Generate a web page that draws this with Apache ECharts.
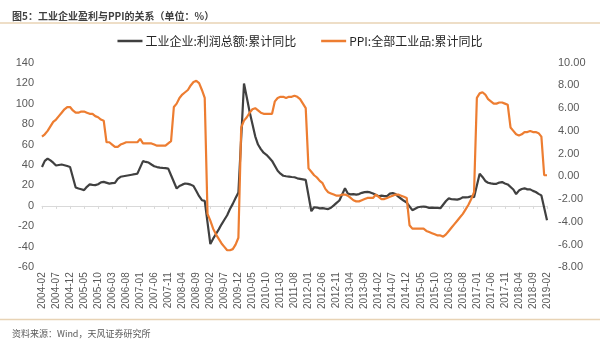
<!DOCTYPE html>
<html>
<head>
<meta charset="utf-8">
<script src="https://cdn.jsdelivr.net/npm/echarts@6/dist/echarts.min.js"></script>
<style>
html,body{margin:0;padding:0;background:#fff;}
#chart{width:600px;height:341px;}
</style>
</head>
<body>
<div id="chart"></div>
<script>
// Monthly categories 2004-02 .. 2019-02
const startYear = 2004, startMonth = 2, endYear = 2019, endMonth = 2;
const categories = [];
for (let y = startYear, m = startMonth; y < endYear || (y === endYear && m <= endMonth); ) {
  categories.push(y + '-' + (m < 10 ? '0' + m : '' + m));
  m++; if (m > 12) { m = 1; y++; }
}

// 工业企业:利润总额:累计同比 (%) — January not published (null)
const profitYoY = [
  38.1, 44, 46.3, 44.5, 42.3, 39.5, 40, 40.5, 39.8, 39, 38.1,            // 2004 Feb-Dec
  null, 18, 17, 16.3, 15.4, 18.7, 21, 20.6, 20.3, 21.2, 23, 23.5,        // 2005
  null, 21.8, 22.2, 22.5, 26.5, 28.5, 29, 29.5, 30, 30.5, 31, 31.6,      // 2006
  null, 43.8, 43, 42.4, 40.5, 38.8, 38, 37.5, 37.2, 37, 36.5, 30,        // 2007
  null, 17, 19.5, 20.8, 21.9, 21.5, 20.8, 19.4, 14.5, 9.5, 5.6, 4.9,     // 2008
  null, -37.3, -32, -27.5, -22.9, -18, -13.5, -9.1, -3, 2, 7.8, 13,      // 2009
  null, 119.7, 106, 92, 80, 68, 60, 55.5, 52, 50, 47, 44,                // 2010
  null, 34.3, 31.5, 29.5, 29, 28.7, 28.3, 28, 27, 26.5, 26, 25.4,        // 2011
  null, -5.2, -1.3, -1.6, -2.4, -2.2, -2.7, -3.1, -1.8, 0.5, 3.0, 5.3,   // 2012
  null, 17.2, 12.1, 11.3, 11.6, 11.1, 11.6, 12.8, 13.5, 13.7, 13.2, 12.2,// 2013
  null, 9.4, 10.1, 9.6, 9.6, 12, 12.5, 11.5, 9, 7, 5, 3.3,               // 2014
  null, -4.2, -2.7, -1.3, -0.8, -0.7, -1.0, -1.9, -1.7, -2.0, -1.9, -2.3,// 2015
  null, 4.8, 7.4, 6.5, 6.4, 6.2, 6.9, 8.4, 8.4, 8.6, 9.4, 8.5,           // 2016
  null, 31.5, 28.3, 24.4, 22.7, 22.0, 21.6, 21.6, 22.8, 23.3, 21.9, 21.0,// 2017
  null, 16.1, 11.6, 15.0, 16.5, 17.2, 16.2, 16.2, 14.7, 13.6, 11.8, 10.3,// 2018
  null, -14.0                                                            // 2019
];

// PPI:全部工业品:累计同比 (%)
const ppiYoY = [
  3.5, 3.7, 4.0, 4.4, 4.8, 5.0, 5.3, 5.6, 5.9, 6.1, 6.1,                 // 2004 Feb-Dec
  5.8, 5.6, 5.6, 5.7, 5.7, 5.6, 5.5, 5.5, 5.3, 5.2, 5.0, 4.9,            // 2005
  3.0, 3.0, 2.8, 2.6, 2.6, 2.8, 2.9, 3.0, 3.0, 3.0, 3.0, 3.0,            // 2006
  3.3, 2.9, 2.9, 2.9, 2.9, 2.8, 2.7, 2.7, 2.7, 2.7, 2.9, 3.1,            // 2007
  6.1, 6.4, 6.9, 7.2, 7.4, 7.6, 8.0, 8.3, 8.4, 8.2, 7.6, 6.9,            // 2008
  -3.3, -3.9, -4.6, -5.1, -5.5, -5.9, -6.2, -6.5, -6.5, -6.4, -6.0, -5.4,// 2009
  4.3, 4.9, 5.2, 5.6, 5.9, 6.0, 5.8, 5.6, 5.5, 5.5, 5.5, 5.5,            // 2010
  6.6, 6.9, 7.0, 7.0, 6.9, 7.0, 7.0, 7.1, 7.0, 6.8, 6.4, 6.0,            // 2011
  0.7, 0.4, 0.1, -0.1, -0.4, -0.6, -1.1, -1.4, -1.5, -1.6, -1.7, -1.7,   // 2012
  -1.6, -1.6, -1.7, -1.9, -2.1, -2.2, -2.2, -2.1, -2.0, -1.9, -1.9, -1.9,// 2013
  -1.6, -1.8, -2.0, -2.0, -1.9, -1.8, -1.7, -1.6, -1.6, -1.7, -1.8, -1.9,// 2014
  -4.3, -4.6, -4.6, -4.6, -4.6, -4.6, -4.8, -4.9, -5.0, -5.1, -5.2, -5.2,// 2015
  -5.3, -5.1, -4.8, -4.5, -4.2, -3.9, -3.6, -3.3, -2.9, -2.5, -2.0, -1.4,// 2016
  6.9, 7.3, 7.4, 7.2, 6.8, 6.6, 6.4, 6.4, 6.5, 6.5, 6.4, 6.3,            // 2017
  4.3, 4.0, 3.7, 3.6, 3.7, 3.9, 3.9, 4.0, 3.9, 3.9, 3.8, 3.5,            // 2018
  0.1, 0.1                                                               // 2019
];

const seriesNames = ['工业企业:利润总额:累计同比', 'PPI:全部工业品:累计同比'];
const leftTicks = { min: -60, max: 140, interval: 20 };
const rightTicks = { min: -8, max: 10, interval: 2 };
const titleText = '图5：工业企业盈利与PPI的关系（单位：%）';
const sourceText = '资料来源：Wind，天风证券研究所';

const numFont = '"Liberation Sans", "Noto Sans CJK SC", sans-serif';
const cjkFont = '"Noto Sans CJK SC", "Liberation Sans", sans-serif';

const chart = echarts.init(document.getElementById('chart'), null, { renderer: 'canvas' });
chart.setOption({
  animation: false,
  backgroundColor: '#ffffff',
  title: [
    { text: titleText, left: 7, top: 6,
      textStyle: { fontSize: 10, fontWeight: 'bold', color: '#404040', fontFamily: cjkFont } },
    { text: sourceText, left: 7, top: 324,
      textStyle: { fontSize: 9, fontWeight: 'normal', color: '#595959', fontFamily: cjkFont } }
  ],
  graphic: [
    { type: 'line', shape: { x1: 0, y1: 23, x2: 600, y2: 23 }, style: { stroke: '#E8D3B5', lineWidth: 1.5 } },
    { type: 'line', shape: { x1: 0, y1: 319.5, x2: 600, y2: 319.5 }, style: { stroke: '#E8D3B5', lineWidth: 1.5 } }
  ],
  legend: {
    top: 30, left: 'center',
    itemWidth: 25, itemHeight: 2.5, itemGap: 25,
    icon: 'rect',
    textStyle: { fontSize: 12, color: '#262626', fontFamily: cjkFont, padding: [0, 0, 0, -2] },
    data: seriesNames
  },
  grid: { left: 42, right: 53, top: 62.7, bottom: 73.7, containLabel: false },
  xAxis: [
    {
      type: 'category', data: categories, boundaryGap: false,
      axisLine: { show: false }, axisTick: { show: false },
      axisLabel: { rotate: 90, interval: 4, fontSize: 10, color: '#595959', margin: 5, fontFamily: numFont },
      splitLine: { show: false }
    },
    {
      type: 'category', data: categories, boundaryGap: false, position: 'bottom',
      axisLine: { show: true, onZero: true, onZeroAxisIndex: 0, lineStyle: { color: '#D9D9D9', width: 1 } },
      axisTick: { show: true, interval: 4, length: 3, lineStyle: { color: '#D9D9D9' } },
      axisLabel: { show: false },
      splitLine: { show: false }
    }
  ],
  yAxis: [
    {
      type: 'value', min: leftTicks.min, max: leftTicks.max, interval: leftTicks.interval,
      axisLine: { show: false }, axisTick: { show: false }, splitLine: { show: false },
      axisLabel: { fontSize: 11, color: '#595959', margin: 8, fontFamily: numFont }
    },
    {
      type: 'value', min: rightTicks.min, max: rightTicks.max, interval: rightTicks.interval, position: 'right',
      axisLine: { show: false }, axisTick: { show: false }, splitLine: { show: false },
      axisLabel: { fontSize: 11, color: '#595959', margin: 11, fontFamily: numFont,
        formatter: v => v.toFixed(2) }
    }
  ],
  series: [
    {
      name: seriesNames[0], type: 'line', xAxisIndex: 0, yAxisIndex: 0, data: profitYoY,
      connectNulls: true, showSymbol: false, symbol: 'none',
      lineStyle: { color: '#404040', width: 2.2 }, itemStyle: { color: '#404040' }
    },
    {
      name: seriesNames[1], type: 'line', xAxisIndex: 0, yAxisIndex: 1, data: ppiYoY,
      connectNulls: true, showSymbol: false, symbol: 'none',
      lineStyle: { color: '#ED7D31', width: 2.2 }, itemStyle: { color: '#ED7D31' }
    }
  ]
});
</script>
</body>
</html>
